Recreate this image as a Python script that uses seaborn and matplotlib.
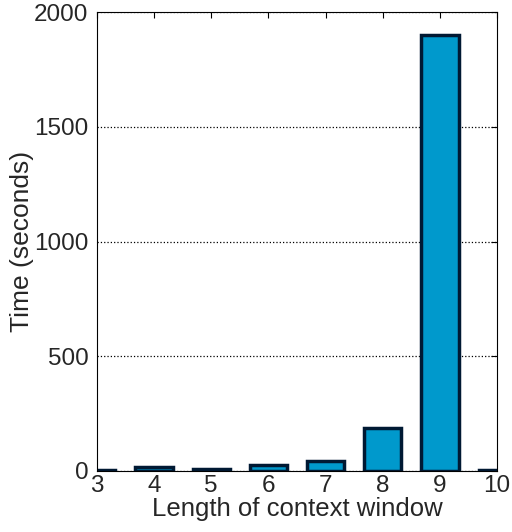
import pandas as pd
import matplotlib.pyplot as plt
import seaborn as sns

window = [3, 4, 5, 6, 7, 8, 9, 10]
seconds = [2, 15, 9, 26, 42, 187, 1900, 2]

data = pd.DataFrame({'window': window, 'seconds': seconds})

sns.set_style('white')
plt.rcParams['font.family'] = ['Liberation Sans', 'DejaVu Sans']

fig = plt.figure(figsize=(5.12, 5.32), dpi=100)
ax = fig.add_axes([0.189, 0.115, 0.782, 0.862])

sns.barplot(data=data, x='window', y='seconds', native_scale=True, width=0.65,
            color='#0099cc', saturation=1, edgecolor='#001933', linewidth=2.5, ax=ax)

ax.set_xlim(3, 10)
ax.set_ylim(0, 2000)
ax.set_xticks(window)
ax.set_yticks([0, 500, 1000, 1500, 2000])
ax.yaxis.grid(True, linestyle=':', color='black', linewidth=0.9)
ax.set_axisbelow(True)
for s in ax.spines.values():
    s.set_visible(True)
    s.set_color('black')
    s.set_linewidth(0.8)
ax.tick_params(direction='in', labelsize=17.5, length=4, color='black', top=True, right=True)
ax.tick_params(axis='x', pad=3)
ax.tick_params(axis='y', pad=6)
ax.set_xlabel('Length of context window', fontsize=18.5, labelpad=0)
ax.set_ylabel('Time (seconds)', fontsize=19, labelpad=0)

fig.savefig('out.png', dpi=100)
